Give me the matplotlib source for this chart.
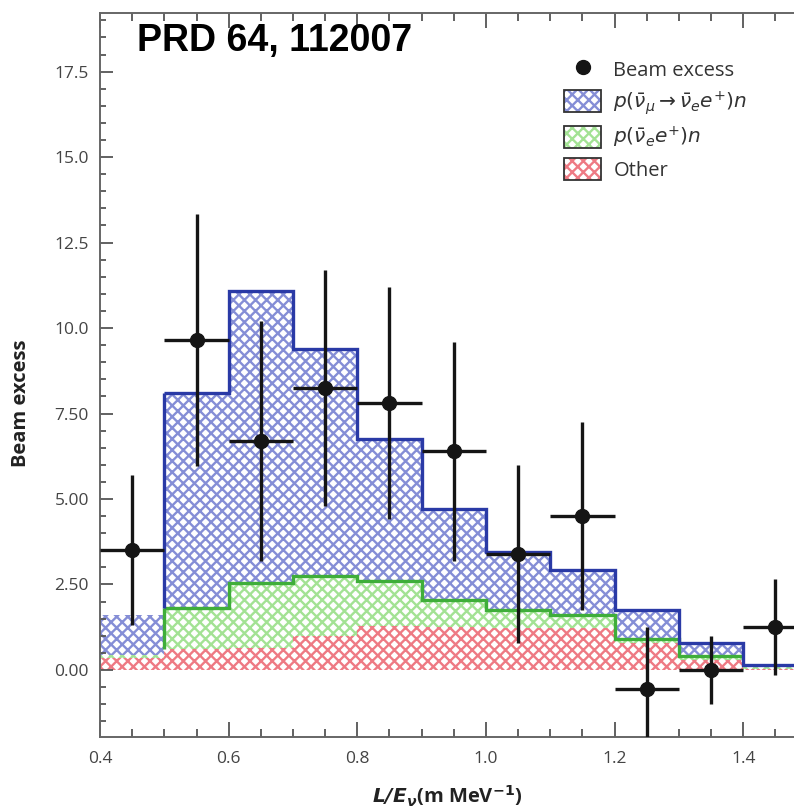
import numpy as np
import matplotlib
matplotlib.use("Agg")
import matplotlib.pyplot as plt
from matplotlib.lines import Line2D
from matplotlib.patches import Patch
from matplotlib.ticker import MultipleLocator

# bin edges in L/E (m/MeV)
edges = [0.4, 0.5, 0.6, 0.7, 0.8, 0.9, 1.0, 1.1, 1.2, 1.3, 1.4, 1.5]
# stacked expectations (cumulative tops)
total_top = [1.6, 8.1, 11.08, 9.4, 6.75, 4.7, 3.45, 2.92, 1.75, 0.8, 0.15]
nue_top = [0.45, 1.8, 2.55, 2.75, 2.6, 2.05, 1.75, 1.62, 0.9, 0.42, 0.08]
other_top = [0.35, 0.6, 0.65, 1.0, 1.28, 1.25, 1.22, 1.22, 0.8, 0.3, 0.04]

# beam excess points
x_pts = [0.45, 0.55, 0.65, 0.75, 0.85, 0.95, 1.05, 1.15, 1.25, 1.35, 1.45]
y_pts = [3.5, 9.65, 6.7, 8.25, 7.8, 6.4, 3.4, 4.5, -0.55, 0.0, 1.25]
y_err = [2.2, 3.7, 3.5, 3.45, 3.4, 3.2, 2.6, 2.75, 1.8, 1.0, 1.4]
x_err = 0.05

yticks = [0.0, 2.5, 5.0, 7.5, 10.0, 12.5, 15.0, 17.5]
ytick_labels = ["0.00", "2.50", "5.00", "7.50", "10.0", "12.5", "15.0", "17.5"]
xticks = [0.4, 0.6, 0.8, 1.0, 1.2, 1.4]
xtick_labels = ["0.4", "0.6", "0.8", "1.0", "1.2", "1.4"]

plt.rcParams['font.family'] = ['Open Sans', 'DejaVu Sans']
plt.rcParams['mathtext.fontset'] = 'dejavusans'
plt.rcParams['hatch.linewidth'] = 1.7

blue_hatch = '#858ed6'
green_hatch = '#a3e294'
red_hatch = '#ee7a84'
blue_line = '#2a3aa6'
green_line = '#3fae3a'
HATCH = 'xxx'

fig = plt.figure(figsize=(7.94, 8.08), dpi=100)
ax = fig.add_axes([0.126, 0.088, 0.874, 0.8965])

# extend values for step='post' fill
def ext(v):
    return list(v) + [v[-1]]

zeros = [0.0] * len(other_top)
ax.fill_between(edges, ext(zeros), ext(other_top), step='post',
                facecolor='white', edgecolor=red_hatch, hatch=HATCH, linewidth=0)
ax.fill_between(edges, ext(other_top), ext(nue_top), step='post',
                facecolor='white', edgecolor=green_hatch, hatch=HATCH, linewidth=0)
ax.fill_between(edges, ext(nue_top), ext(total_top), step='post',
                facecolor='white', edgecolor=blue_hatch, hatch=HATCH, linewidth=0)

# outlines
ax.vlines(edges[1], other_top[1], nue_top[1], color=green_line, lw=2.4)
ax.stairs(nue_top[1:10], edges[1:11], baseline=None, color=green_line, lw=2.4)
ax.vlines(edges[1], nue_top[1], total_top[1], color=blue_line, lw=2.4)
ax.stairs(total_top[1:], edges[1:], baseline=None, color=blue_line, lw=2.4)

ax.errorbar(x_pts, y_pts, yerr=y_err, xerr=x_err, fmt='o', color='#151515',
            ms=10, elinewidth=2.4, capsize=0, zorder=5)

ax.set_xlim(0.4, 1.479)
ax.set_ylim(-1.96, 19.23)
ax.set_xticks(xticks, xtick_labels)
ax.set_yticks(yticks, ytick_labels)
ax.xaxis.set_minor_locator(MultipleLocator(0.05))
ax.yaxis.set_minor_locator(MultipleLocator(0.5))
ax.tick_params(which='both', direction='in', top=True, right=False,
               colors='#555555', labelcolor='#444444', labelsize=12.5, width=1.3)
ax.tick_params(axis='x', which='major', length=11, pad=10)
ax.tick_params(axis='x', which='minor', length=6)
ax.tick_params(axis='y', which='major', length=9, pad=8)
ax.tick_params(axis='y', which='minor', length=4.5)
for s in ['left', 'bottom', 'top']:
    ax.spines[s].set_color('#666666')
    ax.spines[s].set_linewidth(1.4)
ax.spines['right'].set_visible(False)

ax.set_ylabel('Beam excess', fontsize=14.5, fontweight='bold', color='#222222')
ax.yaxis.set_label_coords(-0.1, 0.46)
ax.set_xlabel(r'$\mathbfit{L/E_{\nu}}$(m MeV$^{\mathbf{-1}}$)', fontsize=14.5,
              fontweight='bold', color='#222222', labelpad=12)

ax.text(0.053, 0.985, 'PRD 64, 112007', transform=ax.transAxes, ha='left', va='top',
        fontsize=27, fontweight='bold', family=['Liberation Sans', 'DejaVu Sans'],
        color='black')

frame = Patch(facecolor='none', edgecolor='#333333', lw=1.3)
handles = [
    Line2D([], [], marker='o', ls='none', color='#151515', ms=10),
    (Patch(facecolor='white', edgecolor=blue_hatch, hatch=HATCH, lw=0), frame),
    (Patch(facecolor='white', edgecolor=green_hatch, hatch=HATCH, lw=0), frame),
    (Patch(facecolor='white', edgecolor=red_hatch, hatch=HATCH, lw=0), frame),
]
labels = ['Beam excess',
          r'$p(\bar{\nu}_{\mu}\rightarrow\bar{\nu}_{e}e^{+})n$',
          r'$p(\bar{\nu}_{e}e^{+})n$',
          'Other']
leg = ax.legend(handles, labels, loc='upper left', bbox_to_anchor=(0.657, 0.948),
                frameon=False, fontsize=14.5, handlelength=1.85, handleheight=1.3,
                handletextpad=0.6, labelspacing=0.4, borderaxespad=0)
for t in leg.get_texts():
    t.set_color('#333333')

fig.savefig('out.png', dpi=100)
